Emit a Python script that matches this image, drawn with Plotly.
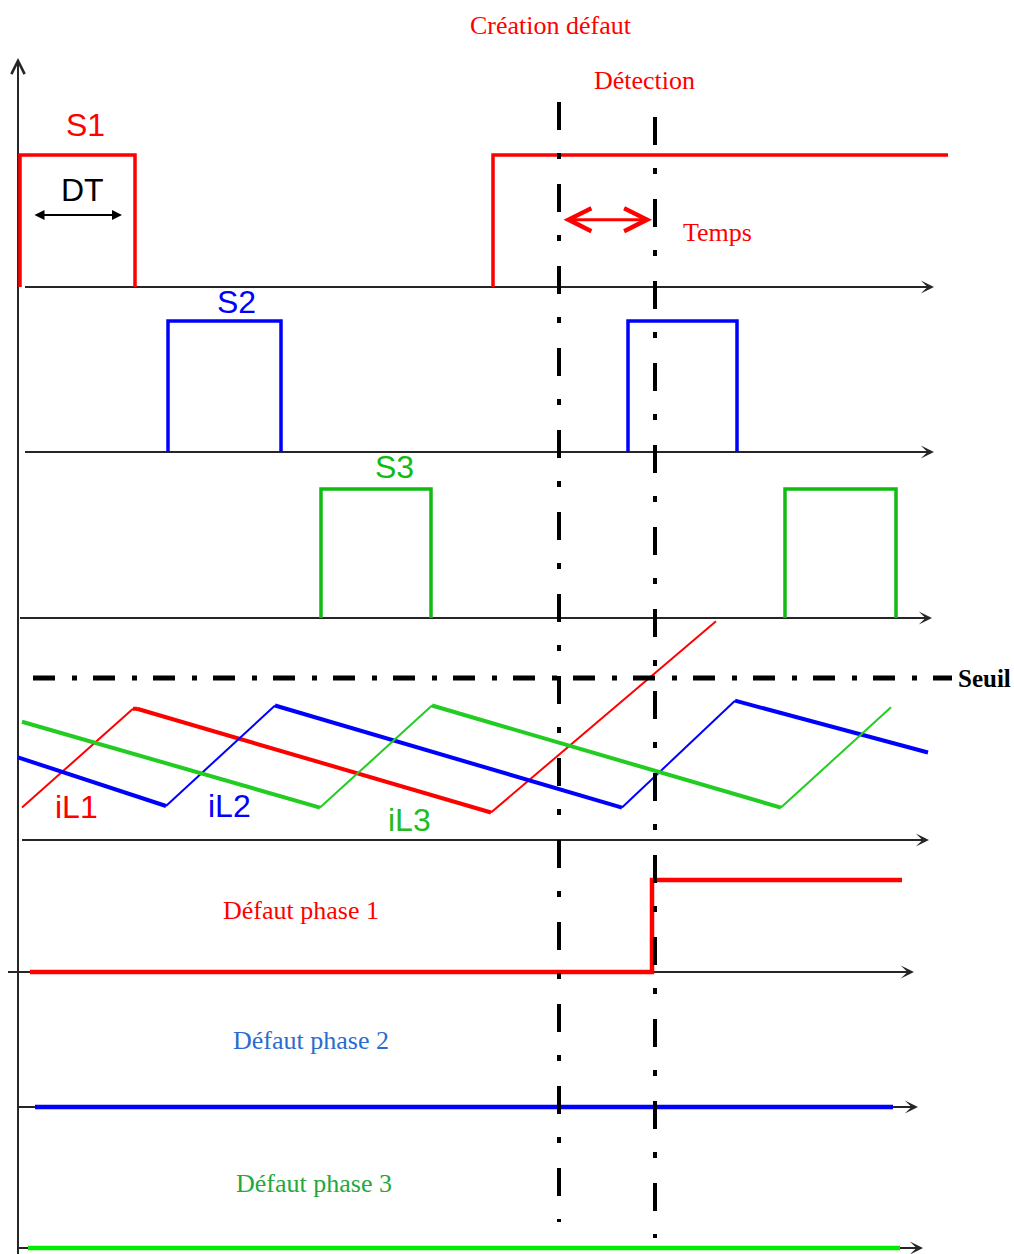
import plotly.graph_objects as go

W, H = 1014, 1254

# gate signals S1..S3 : time of each corner and logic level (0/1), None splits pieces
s1_t = [20, 20, 135, 135, None, 493, 493, 948]
s1_v = [0, 1, 1, 0, None, 0, 1, 1]
s2_t = [168, 168, 281, 281, None, 628, 628, 737, 737]
s2_v = [0, 1, 1, 0, None, 0, 1, 1, 0]
s3_t = [321, 321, 431, 431, None, 785, 785, 896, 896]
s3_v = [0, 1, 1, 0, None, 0, 1, 1, 0]

# inductor currents, normalised so that the threshold (Seuil) is 1
il1_t = [22, 133, 137, 491, 716]
il1_v = [0.20, 0.81, 0.81, 0.17, 1.35]
il2_t = [18, 166, 275, 622, 735, 928]
il2_v = [0.51, 0.21, 0.83, 0.20, 0.86, 0.54]
il3_t = [22, 320, 432, 781, 891]
il3_v = [0.73, 0.20, 0.83, 0.20, 0.82]
seuil = 1.0

# fault flags per phase
d1_t = [30, 652, 652, 902]
d1_v = [0, 0, 1, 1]
d2_t = [35, 893]
d2_v = [0, 0]
d3_t = [28, 900]
d3_v = [0, 0]

t_fault = 559    # Création défaut
t_detect = 655   # Détection

RED, BLUE = '#ff0000', '#0000ff'
AXIS = '#262626'
SANS = 'Liberation Sans Narrow, Liberation Sans, Arial'
SERIF = 'Liberation Serif, Times New Roman'

# one y axis per row: (baseline pixel, pixels per unit level, time axis start/end)
rows = {
    'y':  (287, 132, 25, 932),   # S1
    'y2': (452, 131, 25, 932),   # S2
    'y3': (618, 129, 20, 930),   # S3
    'y4': (840, 162, 22, 927),   # iL
    'y5': (972, 92, 8, 912),     # défaut phase 1
    'y6': (1107, 92, 18, 916),   # défaut phase 2
    'y7': (1248, 92, 18, 921),   # défaut phase 3
}


def py(p):
    # page pixel -> paper fraction
    return 1 - p / H


def ramps(t, v, rising):
    xs, ys = [], []
    for i in range(len(t) - 1):
        if (v[i + 1] > v[i]) == rising:
            xs += [t[i], t[i + 1], None]
            ys += [v[i], v[i + 1], None]
    return xs, ys


fig = go.Figure()


def line(x, y, ax, color, width):
    fig.add_trace(go.Scatter(x=x, y=y, yaxis=ax, mode='lines',
                             line=dict(color=color, width=width),
                             hoverinfo='skip', connectgaps=False))


line(s1_t, s1_v, 'y', RED, 3.5)
line(s2_t, s2_v, 'y2', BLUE, 3.5)
line(s3_t, s3_v, 'y3', '#11bb11', 3.5)

for t, v, c in [(il1_t, il1_v, RED), (il2_t, il2_v, BLUE), (il3_t, il3_v, '#22cc22')]:
    x, y = ramps(t, v, True)
    line(x, y, 'y4', c, 2)
    x, y = ramps(t, v, False)
    line(x, y, 'y4', c, 4)

line(d1_t, d1_v, 'y5', RED, 4.5)
line(d2_t, d2_v, 'y6', BLUE, 4.5)
line(d3_t, d3_v, 'y7', '#00ee00', 4.5)

shapes = []
annotations = []

# time axes of every row, with arrow heads
for ax, (base, unit, x0, x1) in rows.items():
    shapes.append(dict(type='line', xref='x', yref=ax, x0=x0, x1=x1, y0=0, y1=0,
                       line=dict(color=AXIS, width=2), layer='below'))
    annotations.append(dict(x=x1 + 2, y=0, xref='x', yref=ax, ax=-12, ay=0,
                            axref='pixel', ayref='pixel', text='', showarrow=True,
                            arrowhead=3, arrowsize=1.1, arrowwidth=2,
                            arrowcolor=AXIS, standoff=0))

# vertical axis
shapes.append(dict(type='line', xref='x', yref='paper', x0=18, x1=18,
                   y0=0, y1=py(62), line=dict(color=AXIS, width=2), layer='below'))
annotations.append(dict(x=18, y=py(58), xref='x', yref='paper', ax=0, ay=16,
                        axref='pixel', ayref='pixel', text='', showarrow=True,
                        arrowhead=5, arrowsize=1.3, arrowwidth=2, arrowcolor=AXIS,
                        standoff=0))

# threshold
shapes.append(dict(type='line', xref='x', yref='y4', x0=33, x1=952, y0=seuil, y1=seuil,
                   line=dict(color='black', width=5, dash='22px,17px,5px,16px')))

# fault creation / detection markers
for t, top, bot in [(t_fault, 102, 1222), (t_detect, 117, 1238)]:
    shapes.append(dict(type='line', xref='x', yref='paper', x0=t, x1=t,
                       y0=py(top), y1=py(bot),
                       line=dict(color='black', width=4, dash='28px,23px,6px,25px')))

# DT and Temps double arrows
annotations.append(dict(x=122, y=0.545, xref='x', yref='y', ax=33, ay=0.545,
                        axref='x', ayref='y', text='', showarrow=True,
                        arrowside='end+start', arrowhead=2, startarrowhead=2,
                        arrowsize=1, startarrowsize=1, arrowwidth=2,
                        arrowcolor='black', standoff=0, startstandoff=0))
annotations.append(dict(x=t_detect - 3, y=0.51, xref='x', yref='y',
                        ax=t_fault + 3, ay=0.51, axref='x', ayref='y', text='',
                        showarrow=True, arrowside='end+start', arrowhead=5,
                        startarrowhead=5, arrowsize=1.5, startarrowsize=1.5,
                        arrowwidth=3, arrowcolor=RED, standoff=0, startstandoff=0))

labels = [
    ('Création défaut', 551, 25, RED, SERIF, 26),
    ('Détection', 644, 80, RED, SERIF, 26),
    ('Temps', 717, 232, RED, SERIF, 26),
    ('S1', 85, 125, RED, SANS, 32),
    ('DT', 82, 190, 'black', SANS, 32),
    ('S2', 236, 302, BLUE, SANS, 32),
    ('S3', 394, 467, '#11bb11', SANS, 32),
    ('<b>Seuil</b>', 984, 678, 'black', SERIF, 25),
    ('iL1', 76, 807, RED, SANS, 32),
    ('iL2', 229, 806, BLUE, SANS, 32),
    ('iL3', 409, 820, '#22bb22', SANS, 32),
    ('Défaut phase 1', 301, 910, RED, SERIF, 26),
    ('Défaut phase 2', 311, 1040, '#2a6bd1', SERIF, 26),
    ('Défaut phase 3', 314, 1183, '#22a83c', SERIF, 26),
]
for text, x, y, c, fam, size in labels:
    annotations.append(dict(text=text, x=x, y=py(y), xref='x', yref='paper',
                            showarrow=False, xanchor='center', yanchor='middle',
                            font=dict(family=fam, size=size, color=c)))

layout_axes = {}
for ax, (base, unit, x0, x1) in rows.items():
    key = 'yaxis' if ax == 'y' else 'yaxis' + ax[1:]
    cfg = dict(range=[(base - H) / unit, base / unit], domain=[0, 1],
               visible=False, showgrid=False, zeroline=False, fixedrange=True)
    if ax != 'y':
        cfg['overlaying'] = 'y'
    layout_axes[key] = cfg

fig.update_layout(
    width=W, height=H,
    margin=dict(l=0, r=0, t=0, b=0),
    paper_bgcolor='white', plot_bgcolor='white',
    showlegend=False,
    xaxis=dict(range=[0, W], domain=[0, 1], visible=False, showgrid=False,
               zeroline=False, fixedrange=True),
    shapes=shapes,
    annotations=annotations,
    **layout_axes,
)

# page body has a default 8px margin; drop it so the figure fills the window
fig.write_html('out.html', config={'displayModeBar': False},
               post_script="document.body.style.margin='0';")
